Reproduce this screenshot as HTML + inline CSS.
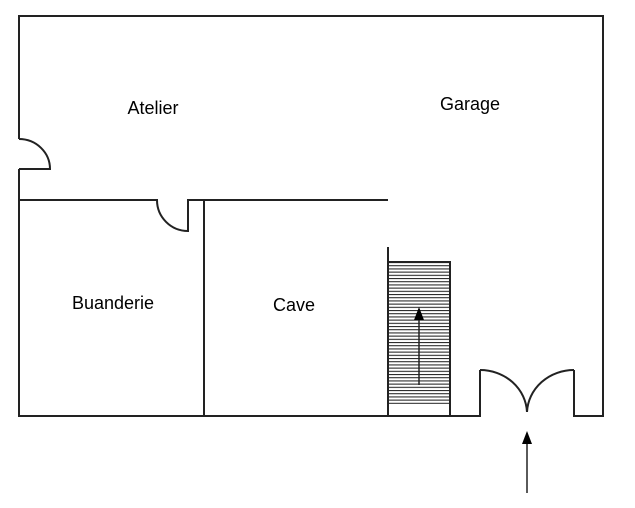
<!DOCTYPE html>
<html><head><style>body{margin:0;background:#fff}svg{display:block}</style></head><body>
<svg width="635" height="508" viewBox="0 0 635 508" xmlns="http://www.w3.org/2000/svg">
<defs><pattern id="h" width="10" height="3.2" patternUnits="userSpaceOnUse" y="262"><line x1="0" y1="0.5" x2="10" y2="0.5" stroke="#222" stroke-width="1.1"/></pattern></defs>
<rect x="389" y="263" width="60" height="141" fill="url(#h)"/>
<g fill="none" stroke="#222" stroke-width="2">
<path d="M19 139 V16 H603 V416 H574 V370"/>
<path d="M19 169 V416 H480 V370"/>
<path d="M19 139 A31 30 0 0 1 50 169 H19"/>
<path d="M19 200 H157 A31 31 0 0 0 188 231 V200 H388"/>
<path d="M204 200 V416"/>
<path d="M388 247 V416"/>
<rect x="388" y="262" width="62" height="154"/>
<path d="M480 370 A47 44 0 0 1 527 412 A47 44 0 0 1 574 370"/>
<line x1="419" y1="385" x2="419" y2="318" stroke-width="1.5"/>
<line x1="527" y1="493" x2="527" y2="442" stroke-width="1.5"/>
</g>
<polygon points="419,307 414,320 424,320" fill="#000"/>
<polygon points="527,431 522,444 532,444" fill="#000"/>
<g font-family="Liberation Sans, sans-serif" font-size="18" fill="#000" text-anchor="middle">
<text x="153" y="114">Atelier</text>
<text x="470" y="110">Garage</text>
<text x="113" y="309">Buanderie</text>
<text x="294" y="311">Cave</text>
</g>
</svg>
</body></html>
